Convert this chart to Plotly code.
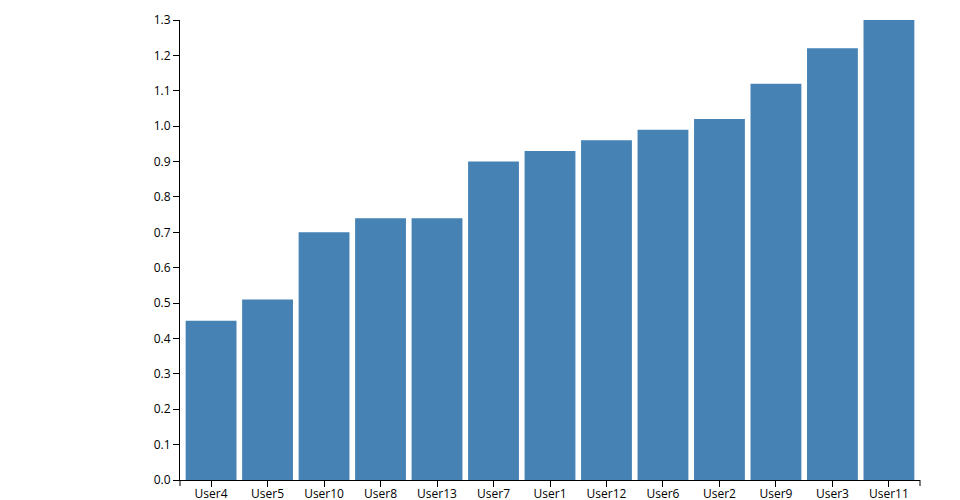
import plotly.graph_objects as go

users = ["User4", "User5", "User10", "User8", "User13", "User7", "User1",
         "User12", "User6", "User2", "User9", "User3", "User11"]
values = [0.45, 0.51, 0.70, 0.74, 0.74, 0.90, 0.93, 0.96, 0.99, 1.02, 1.12, 1.22, 1.30]
y_ticks = [round(i * 0.1, 1) for i in range(14)]

fig = go.Figure(go.Bar(x=users, y=values, marker=dict(color="#4682B4", line=dict(width=0))))

font = dict(family="Open Sans", size=12, color="#000")
# page body has an 8px margin, so the figure is 952x492 and offset by 8px
fig.update_layout(
    width=952, height=492,
    margin=dict(l=172, r=40, t=12, b=20, autoexpand=False),
    paper_bgcolor="white", plot_bgcolor="white",
    bargap=0.1, showlegend=False, font=font,
)
n = len(users)
fig.update_xaxes(range=[-0.55, n - 1 + 0.55],
                 showline=True, linecolor="#000", linewidth=1, ticks="outside",
                 ticklen=6, tickcolor="#000", showgrid=False, zeroline=False,
                 tickfont=font, automargin=False, ticklabelstandoff=-3)
fig.update_yaxes(range=[0, 1.3], tickvals=y_ticks, tickformat=".1f",
                 showline=True, linecolor="#000", linewidth=1, ticks="outside",
                 ticklen=6, tickcolor="#000", showgrid=False, zeroline=False,
                 tickfont=font, automargin=False)
# d3-style outer ticks at the ends of the x domain
for xp in (0, 1):
    fig.add_shape(type="line", xref="paper", yref="paper", x0=xp, x1=xp,
                  y0=0, y1=-6 / 460, line=dict(color="#000", width=1))
fig.write_html("out.html")
